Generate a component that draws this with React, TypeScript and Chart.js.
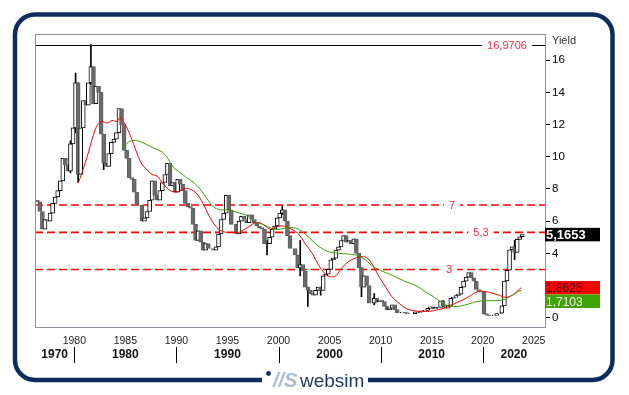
import React, { useEffect, useRef } from 'react';
import { Chart, registerables } from 'chart.js';

Chart.register(...registerables);

// ---- Data (quarterly candles, yield in %) ----
const firstPeriod = 1976.375;
const periodStep = 0.25;
const firstOpen = 7.3;
const closes = [
  7.2, 6.6, 5.5, // 1976 Q2-Q4
  6.1, 6.0, 6.5, 7.1, // 1977
  7.5, 7.9, 8.5, 9.9, // 1978
  9.5, 9.1, 10.8, 11.8, // 1979
  14.6, 8.9, 11.8, 13.5, // 1980
  13.2, 14.6, 15.6, 13.3, // 1981
  14.4, 14.0, 11.4, 9.6, // 1982
  9.4, 10.2, 10.9, 11.1, // 1983
  11.5, 13.0, 12.0, 10.4, // 1984
  9.9, 8.7, 8.6, 7.8, // 1985
  7.0, 7.0, 6.0, 6.2, // 1986
  6.6, 7.3, 8.5, 7.6, // 1987
  7.3, 7.9, 8.4, 8.9, // 1988
  9.6, 8.2, 8.4, 7.8, // 1989
  8.6, 8.3, 7.9, 7.1, // 1990
  6.9, 6.8, 5.8, 4.8, // 1991
  5.4, 4.7, 4.2, 4.6, // 1992
  4.3, 4.3, 4.2, 4.4, // 1993
  5.2, 6.1, 6.5, 7.6, // 1994
  6.7, 5.8, 5.8, 5.2, // 1995
  6.0, 6.3, 6.1, 5.9, // 1996
  6.4, 6.1, 5.9, 5.7, // 1997
  5.6, 5.5, 4.6, 4.6, // 1998
  5.0, 5.5, 5.7, 6.2, // 1999
  6.5, 6.7, 6.0, 5.1, // 2000
  4.3, 4.3, 3.9, 3.1, // 2001
  3.3, 2.9, 1.9, 1.7, // 2002
  1.5, 1.4, 1.7, 1.9, // 2003
  1.7, 2.6, 2.7, 3.0, // 2004
  3.6, 3.7, 4.2, 4.4, // 2005
  4.8, 5.1, 4.7, 4.8, // 2006
  4.6, 4.9, 4.0, 3.1, // 2007
  1.9, 2.6, 2.0, 0.9, // 2008
  0.9, 1.2, 1.0, 1.1, // 2009
  1.0, 0.7, 0.5, 0.6, // 2010
  0.8, 0.5, 0.3, 0.3, // 2011
  0.33, 0.3, 0.25, 0.25, // 2012
  0.25, 0.36, 0.33, 0.38, // 2013
  0.42, 0.46, 0.58, 0.67, // 2014
  0.56, 0.64, 0.64, 1.05, // 2015
  0.73, 0.6, 0.77, 1.2, // 2016
  1.27, 1.38, 1.47, 1.89, // 2017
  2.27, 2.52, 2.81, 2.48, // 2018
  2.27, 1.75, 1.63, 1.58, // 2019
  0.25, 0.16, 0.13, 0.13, // 2020
  0.16, 0.25, 0.28, 0.73, // 2021
  2.28, 2.95, 4.22, 4.41, // 2022
  4.06, 4.87, 5.03, 5.1653, // 2023
];

const wickPeriods = [1979.625, 1980.125, 1980.375, 1981.625, 1982.875, 1998.875, 2000.375, 2002.125, 2002.875, 2004.125, 2008.125, 2009.375, 2016.125, 2023.125];
const wickLows = [9.0, 11.5, 8.4, 14.5, 9.2, 3.9, 6.4, 2.6, 0.7, 1.4, 1.3, 0.8, 0.7, 3.6];
const wickHighs = [11.0, 15.2, 14.6, 16.9706, 11.4, 4.8, 6.95, 4.8, 1.9, 1.9, 3.1, 1.5, 1.06, 4.8];

const redMaYears = [1980.4, 1980.7, 1981.05, 1981.4, 1981.7, 1982.0, 1982.3, 1982.7, 1983.2, 1983.7, 1984.2, 1984.5, 1984.8, 1985.3, 1985.8, 1986.3, 1986.6, 1987.1, 1987.6, 1988.1, 1988.6, 1989.0, 1989.4, 1990.0, 1990.7, 1991.3, 1992.0, 1992.6, 1993.3, 1993.95, 1994.4, 1994.9, 1995.4, 1996.1, 1996.7, 1997.2, 1997.7, 1998.2, 1998.7, 1999.2, 1999.8, 2000.5, 2001.3, 2001.96, 2002.6, 2003.3, 2003.9, 2004.6, 2005.1, 2005.6, 2006.2, 2006.9, 2007.5, 2008.2, 2008.7, 2009.2, 2009.8, 2010.5, 2011.1, 2011.8, 2012.4, 2013.1, 2014.0, 2014.8, 2015.5, 2016.5, 2017.5, 2018.5, 2019.1, 2019.8, 2020.8, 2021.6, 2022.2, 2022.9, 2023.4, 2023.75];
const redMaValues = [8.4, 8.9, 9.6, 10.3, 11.0, 11.6, 12.0, 12.2, 12.1, 12.25, 12.2, 12.45, 12.2, 11.6, 10.8, 9.95, 9.55, 9.2, 8.9, 8.8, 8.4, 8.1, 7.9, 7.8, 8.0, 8.0, 7.7, 7.1, 6.2, 5.6, 5.4, 5.3, 5.3, 5.3, 5.5, 5.7, 5.9, 5.9, 5.7, 5.5, 5.65, 5.7, 5.5, 5.2, 4.6, 4.0, 3.3, 2.7, 2.55, 2.6, 3.1, 3.5, 3.7, 3.8, 3.7, 3.3, 2.6, 1.9, 1.3, 0.9, 0.6, 0.45, 0.4, 0.4, 0.48, 0.65, 0.95, 1.25, 1.5, 1.65, 1.55, 1.4, 1.27, 1.4, 1.65, 1.8625];

const greenMaYears = [1984.7, 1985.1, 1985.6, 1986.1, 1986.6, 1987.3, 1987.9, 1988.6, 1989.05, 1989.7, 1990.4, 1991.0, 1991.7, 1992.3, 1993.0, 1993.6, 1994.3, 1994.9, 1995.6, 1996.2, 1996.9, 1997.55, 1998.2, 1998.85, 1999.5, 2000.2, 2000.8, 2001.3, 2001.96, 2002.6, 2003.3, 2003.9, 2004.9, 2005.9, 2006.9, 2007.85, 2008.5, 2009.2, 2009.8, 2010.5, 2011.1, 2011.9, 2012.6, 2013.6, 2014.4, 2015.2, 2016.2, 2017.0, 2017.8, 2018.6, 2019.4, 2020.4, 2021.4, 2022.2, 2022.9, 2023.4, 2023.75];
const greenMaValues = [10.5, 10.8, 11.0, 11.0, 10.9, 10.7, 10.5, 10.3, 10.0, 9.35, 9.0, 8.7, 8.4, 8.0, 7.4, 6.9, 6.7, 6.7, 6.6, 6.5, 6.35, 6.05, 5.85, 5.7, 5.5, 5.5, 5.6, 5.6, 5.5, 5.2, 4.8, 4.45, 4.1, 4.0, 3.95, 3.85, 3.6, 3.2, 3.0, 2.8, 2.65, 2.4, 2.2, 1.95, 1.6, 1.3, 0.85, 0.7, 0.72, 0.85, 1.0, 1.06, 1.06, 1.15, 1.4, 1.6, 1.7103];

const yearTicks = [1980, 1985, 1990, 1995, 2000, 2005, 2010, 2015, 2020, 2025];
const yieldTicks = [0, 2, 4, 6, 8, 10, 12, 14, 16];
const decadeStarts = [1970, 1980, 1990, 2000, 2010, 2020];
const decadeLabels = ['1970', '1980', '1990', '2000', '2010', '2020'];
const levelValues = [7, 5.3, 3];
const levelLabels = ['7', '5,3', '3'];
const maxValue = 16.9706;
const maxLabel = '16,9706';
const lastValue = 5.1653;
const lastLabel = '5,1653';
const redLast = 1.8625;
const redLastLabel = '1,8625';
const greenLast = 1.7103;
const greenLastLabel = '1,7103';

// ---- Styles ----
const FONT = 'Arial, "Liberation Sans", sans-serif';
const levelLabelOffsets = [93, 64, 96]; // px left of plot's right edge
const maxLabelOffset = 38;

const periods = closes.map((_, i) => firstPeriod + i * periodStep);
const opens = closes.map((_, i) => (i === 0 ? firstOpen : closes[i - 1]));

const overlayPlugin = {
  id: 'overlay',
  beforeDatasetsDraw(chart: any) {
    const { ctx, chartArea: a, scales } = chart;
    const y = scales.y;
    ctx.save();
    // maximum line
    const ym = Math.round(y.getPixelForValue(maxValue)) + 0.5;
    ctx.strokeStyle = '#000';
    ctx.lineWidth = 1;
    ctx.beginPath();
    ctx.moveTo(a.left, ym);
    ctx.lineTo(a.right, ym);
    ctx.stroke();
    // dashed level lines
    ctx.strokeStyle = '#ff0000';
    ctx.lineWidth = 1.6;
    ctx.setLineDash([8, 4]);
    levelValues.forEach((v) => {
      const yy = y.getPixelForValue(v);
      ctx.beginPath();
      ctx.moveTo(a.left, yy);
      ctx.lineTo(a.right, yy);
      ctx.stroke();
    });
    ctx.setLineDash([]);
    ctx.font = '11px ' + FONT;
    ctx.textAlign = 'center';
    ctx.textBaseline = 'middle';
    const tag = (text: string, cx: number, yy: number) => {
      const w = ctx.measureText(text).width;
      ctx.fillStyle = '#ffffff';
      ctx.fillRect(cx - w / 2 - 5, yy - 6, w + 10, 12);
      ctx.fillStyle = '#ff2a3c';
      ctx.fillText(text, cx, yy + 0.5);
    };
    tag(maxLabel, a.right - maxLabelOffset, ym);
    levelValues.forEach((v, i) => {
      tag(levelLabels[i], a.right - levelLabelOffsets[i], y.getPixelForValue(v));
    });
    ctx.restore();
  },
  afterDraw(chart: any) {
    const { ctx, chartArea: a, scales } = chart;
    const x = scales.x;
    const y = scales.y;
    ctx.save();
    // plot frame
    ctx.strokeStyle = '#8e8e9e';
    ctx.lineWidth = 1;
    ctx.strokeRect(a.left + 0.5, a.top + 0.5, a.right - a.left, a.bottom - a.top - 1);

    // value boxes
    const boxW = 55;
    const boxH = 13.5;
    const drawBox = (cy: number, bg: string, fg: string, text: string, bold: boolean) => {
      ctx.fillStyle = bg;
      ctx.fillRect(a.right, cy - boxH / 2, boxW, boxH);
      ctx.fillStyle = fg;
      ctx.font = (bold ? 'bold 13px ' : '12px ') + FONT;
      ctx.textAlign = 'left';
      ctx.textBaseline = 'middle';
      ctx.fillText(text, a.right + 1, cy + 1);
    };
    drawBox(y.getPixelForValue(lastValue), '#000000', '#ffffff', lastLabel, true);
    const redY = y.getPixelForValue(redLast);
    drawBox(redY, '#ff0000', '#3c0000', redLastLabel, false);
    const greenY = Math.max(y.getPixelForValue(greenLast), redY + boxH);
    drawBox(greenY, '#3fa300', '#f4f4f4', greenLastLabel, false);

    // axis title
    ctx.fillStyle = '#333';
    ctx.font = '11px ' + FONT;
    ctx.textAlign = 'left';
    ctx.textBaseline = 'middle';
    ctx.fillText('Yield', a.right + 7, 41);

    // decade separators and labels
    ctx.strokeStyle = '#000';
    ctx.lineWidth = 1;
    decadeStarts.forEach((d, i) => {
      if (d > x.min) {
        const px = Math.round(x.getPixelForValue(d)) + 0.5;
        ctx.beginPath();
        ctx.moveTo(px, a.bottom + 19);
        ctx.lineTo(px, a.bottom + 35);
        ctx.stroke();
      }
      const s = Math.max(d, x.min);
      const e = Math.min(d + 10, x.max);
      const cx = (x.getPixelForValue(s) + x.getPixelForValue(e)) / 2;
      ctx.fillStyle = '#111';
      ctx.font = 'bold 12px ' + FONT;
      ctx.textAlign = 'center';
      ctx.fillText(decadeLabels[i], cx, a.bottom + 27);
    });

    // outer rounded frame
    ctx.strokeStyle = '#0b2d5e';
    ctx.lineWidth = 4.5;
    ctx.beginPath();
    (ctx as any).roundRect(15, 14.5, 597.5, 365.5, 20);
    ctx.stroke();
    ctx.fillStyle = '#ffffff';
    ctx.fillRect(262, 373, 106, 12);

    // logo
    ctx.fillStyle = '#0b2d5e';
    ctx.beginPath();
    ctx.arc(268.5, 373.5, 2.4, 0, Math.PI * 2);
    ctx.fill();
    ctx.fillStyle = '#a9bcd4';
    ctx.font = 'italic bold 20px ' + FONT;
    ctx.textAlign = 'left';
    ctx.textBaseline = 'alphabetic';
    ctx.fillText('//S', 273, 387);
    ctx.fillStyle = '#1e3a66';
    ctx.font = '19px ' + FONT;
    ctx.fillText('websim', 300, 387);
    ctx.restore();
  },
};

export default function App() {
  const ref = useRef<HTMLCanvasElement | null>(null);

  useEffect(() => {
    document.body.style.margin = '0';
    const canvas = ref.current;
    if (!canvas) return;

    const bodyData = closes.map((c, i) => ({ x: periods[i], y: [opens[i], c] }));
    const wickData = wickPeriods.map((p, i) => ({ x: p, y: [wickLows[i], wickHighs[i]] }));
    const redData = redMaYears.map((t, i) => ({ x: t, y: redMaValues[i] }));
    const greenData = greenMaYears.map((t, i) => ({ x: t, y: greenMaValues[i] }));
    const isUp = (i: number) => i == null || closes[i] >= opens[i];

    const chart = new Chart(canvas, {
      type: 'bar',
      data: {
        datasets: [
          {
            type: 'bar',
            data: wickData as any,
            backgroundColor: '#000000',
            borderWidth: 0,
            barThickness: 1,
            grouped: false,
            order: 3,
          } as any,
          {
            type: 'bar',
            data: bodyData as any,
            backgroundColor: (c: any) => (isUp(c.dataIndex) ? '#ffffff' : '#6b6b6b'),
            borderColor: (c: any) => (isUp(c.dataIndex) ? '#000000' : '#5e5e5e'),
            borderWidth: 1,
            borderSkipped: false,
            barThickness: 4,
            grouped: false,
            order: 2,
          } as any,
          {
            type: 'line',
            data: redData as any,
            borderColor: '#ff0000',
            borderWidth: 1,
            pointRadius: 0,
            tension: 0.35,
            order: 1,
          } as any,
          {
            type: 'line',
            data: greenData as any,
            borderColor: '#3a9e00',
            borderWidth: 1,
            pointRadius: 0,
            tension: 0.35,
            order: 0,
          } as any,
        ],
      },
      options: {
        responsive: false,
        animation: false,
        devicePixelRatio: 1,
        layout: { padding: { left: 35, top: 34, right: 0, bottom: 0 } },
        plugins: { legend: { display: false }, tooltip: { enabled: false } },
        scales: {
          x: {
            type: 'linear',
            min: 1976.15,
            max: 2026.1,
            offset: false,
            grid: { display: false },
            border: { display: false },
            afterBuildTicks: (s: any) => {
              s.ticks = yearTicks.map((v) => ({ value: v }));
            },
            afterFit: (s: any) => {
              s.height = 67;
            },
            ticks: {
              autoSkip: false,
              maxRotation: 0,
              padding: -1,
              color: '#222',
              font: { family: FONT, size: 10.5 },
              callback: (v: any) => String(v),
            },
          },
          y: {
            type: 'linear',
            position: 'right',
            min: -0.64,
            max: 17.63,
            grid: { drawOnChartArea: false, drawTicks: true, tickLength: 5, tickColor: '#000', lineWidth: 1 },
            border: { display: false },
            afterBuildTicks: (s: any) => {
              s.ticks = yieldTicks.map((v) => ({ value: v }));
            },
            afterFit: (s: any) => {
              s.width = 84;
            },
            ticks: {
              padding: 2,
              color: '#000',
              font: { family: FONT, size: 11.5 },
              callback: (v: any) => String(v),
            },
          },
        },
      } as any,
      plugins: [overlayPlugin],
    });

    return () => chart.destroy();
  }, []);

  return (
    <div style={{ position: 'absolute', left: 0, top: 0, width: 629, height: 395, background: '#fff' }}>
      <canvas ref={ref} width={629} height={395} style={{ display: 'block', width: 629, height: 395 }} />
    </div>
  );
}
